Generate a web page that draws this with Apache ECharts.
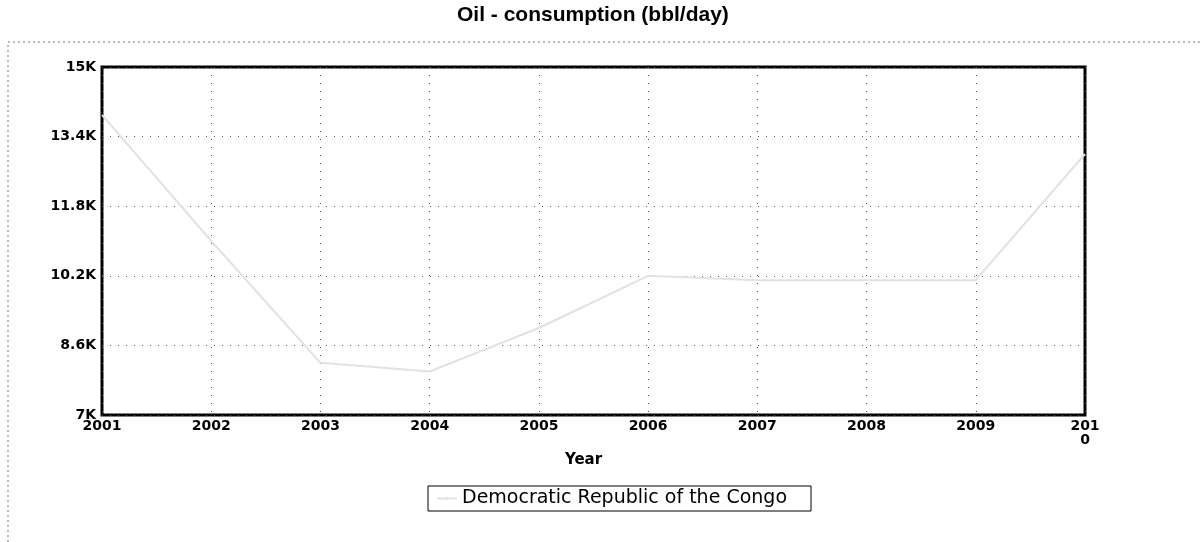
<!DOCTYPE html>
<html>
<head>
<meta charset="utf-8">
<script src="https://cdn.jsdelivr.net/npm/echarts@6/dist/echarts.min.js"></script>
<style>
  html, body { margin: 0; padding: 0; background: #fff; }
  #chart { width: 1200px; height: 542px; }
</style>
</head>
<body>
<div id="chart"></div>
<script>
// Oil consumption, Democratic Republic of the Congo (bbl/day)
const years = [2001, 2002, 2003, 2004, 2005, 2006, 2007, 2008, 2009, 2010];
const consumption = [13900, 11000, 8200, 8000, 9000, 10200, 10100, 10100, 10100, 13000];
const seriesName = 'Democratic Republic of the Congo';

const chart = echarts.init(document.getElementById('chart'), null, { renderer: 'canvas' });

const labelFont = { fontFamily: 'DejaVu Sans', fontSize: 14, fontWeight: 'bold', color: '#000' };

chart.setOption({
    backgroundColor: '#fff',
    animation: false,
    title: {
        text: 'Oil - consumption (bbl/day)',
        left: 452,
        top: 0,
        textStyle: { fontFamily: 'Liberation Sans', fontSize: 21, fontWeight: 'bold', color: '#000' },
    },
    graphic: [{
        type: 'polyline',
        shape: { points: [[8, 542], [8, 42], [1200, 42]] },
        style: { stroke: '#777', lineWidth: 1, lineDash: [2, 3], fill: null },
    }],
    grid: {
        left: 102, right: 115, top: 67, bottom: 127,
        show: true, borderColor: '#000', borderWidth: 3,
    },
    legend: {
        data: [seriesName],
        left: 428, top: 486,
        borderColor: '#000', borderWidth: 1,
        padding: [3, 24, 3, 8],
        itemWidth: 20, itemHeight: 2,
        textStyle: { fontFamily: 'DejaVu Sans', fontSize: 19, color: '#000' },
    },
    xAxis: {
        type: 'value',
        min: 2001, max: 2010, interval: 1,
        name: 'Year',
        nameLocation: 'middle',
        nameGap: 38,
        nameTextStyle: Object.assign({}, labelFont, { fontSize: 15, padding: [0, 20, 0, 0] }),
        axisLine: { show: false },
        axisTick: { show: false },
        axisLabel: Object.assign({
            margin: 4,
            formatter: v => v === 2010 ? '201\n0' : String(v),
        }, labelFont),
        splitLine: { show: true, lineStyle: { color: '#555', type: [1, 7], width: 1 } },
    },
    yAxis: {
        type: 'value',
        min: 7000, max: 15000, interval: 1600,
        axisLine: { show: false },
        axisTick: { show: false },
        axisLabel: Object.assign({
            margin: 6,
            formatter: v => (v / 1000) + 'K',
        }, labelFont),
        splitLine: { show: true, lineStyle: { color: '#555', type: [1, 7], width: 1 } },
    },
    series: [{
        name: seriesName,
        type: 'line',
        data: years.map((y, i) => [y, consumption[i]]),
        showSymbol: false,
        lineStyle: { color: '#e2e2e2', width: 2 },
        itemStyle: { color: '#e2e2e2' },
    }],
});
</script>
</body>
</html>
